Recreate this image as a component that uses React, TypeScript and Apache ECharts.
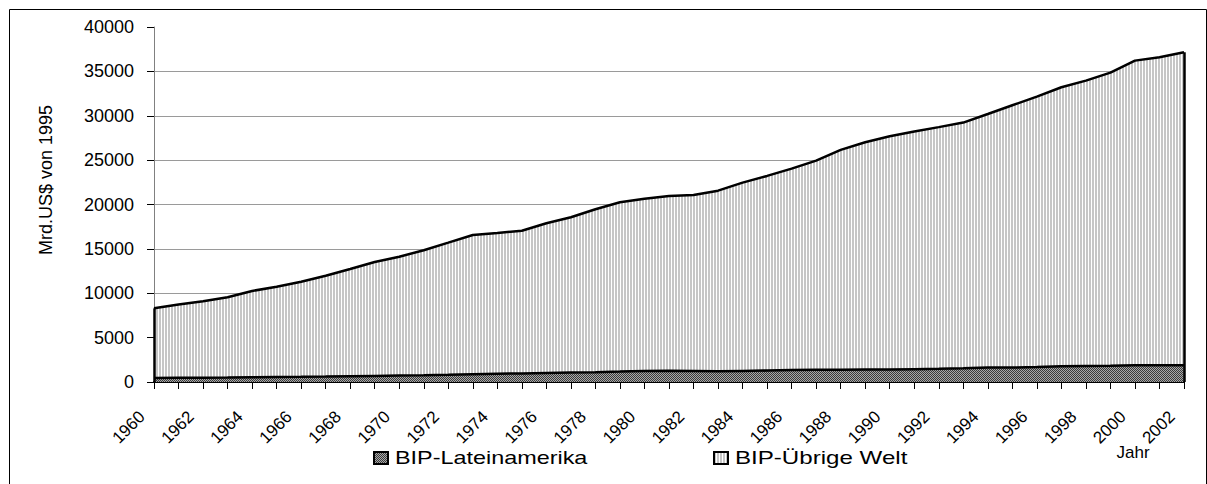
import React, { useEffect, useRef } from 'react';
import * as echarts from 'echarts';

const years = [
  '1960', '1961', '1962', '1963', '1964', '1965', '1966', '1967', '1968', '1969',
  '1970', '1971', '1972', '1973', '1974', '1975', '1976', '1977', '1978', '1979',
  '1980', '1981', '1982', '1983', '1984', '1985', '1986', '1987', '1988', '1989',
  '1990', '1991', '1992', '1993', '1994', '1995', '1996', '1997', '1998', '1999',
  '2000', '2001', '2002',
];

const bipLateinamerika = [
  450, 470, 490, 500, 530, 560, 580, 610, 650, 690,
  730, 770, 820, 880, 940, 970, 1020, 1060, 1100, 1170,
  1250, 1260, 1240, 1200, 1250, 1290, 1340, 1380, 1390, 1410,
  1400, 1450, 1500, 1560, 1640, 1620, 1680, 1770, 1810, 1820,
  1890, 1900, 1880,
];

const bipUebrigeWelt = [
  7850, 8250, 8610, 9050, 9730, 10180, 10720, 11370, 12080, 12830,
  13390, 14080, 14880, 15690, 15860, 16080, 16860, 17500, 18360, 19080,
  19410, 19690, 19830, 20360, 21210, 21930, 22700, 23570, 24760, 25600,
  26290, 26770, 27220, 27670, 28560, 29560, 30470, 31440, 32150, 33040,
  34320, 34690, 35280,
];

const yMin = 0;
const yMax = 40000;
const yStep = 5000;

const seriesNames = ['BIP-Lateinamerika', 'BIP-Übrige Welt'];
const yAxisTitle = 'Mrd.US$ von 1995';
const xAxisTitle = 'Jahr';

const FONT = '"Liberation Sans", Arial, sans-serif';

function makePattern(pixels: string[][]) {
  const h = pixels.length;
  const w = pixels[0].length;
  const c = document.createElement('canvas');
  c.width = w;
  c.height = h;
  const ctx = c.getContext('2d')!;
  for (let y = 0; y < h; y++) {
    for (let x = 0; x < w; x++) {
      ctx.fillStyle = pixels[y][x];
      ctx.fillRect(x, y, 1, 1);
    }
  }
  return { image: c, repeat: 'repeat' as const };
}

export default function App() {
  const ref = useRef<HTMLDivElement>(null);

  useEffect(() => {
    if (!ref.current) return;
    const chart = echarts.init(ref.current, undefined, { renderer: 'svg' });

    const stripes = makePattern([['#c6c6c6', '#c6c6c6', '#ffffff']]);
    const checker = makePattern([
      ['#3a3a3a', '#a8a8a8'],
      ['#a8a8a8', '#3a3a3a'],
    ]);

    const last = years.length - 1;
    const totalFirst = bipLateinamerika[0] + bipUebrigeWelt[0];
    const totalLast = bipLateinamerika[last] + bipUebrigeWelt[last];

    const option: any = {
      animation: false,
      backgroundColor: '#ffffff',
      grid: { left: 154, right: 23, top: 27, bottom: 102 },
      xAxis: {
        type: 'category',
        data: years,
        boundaryGap: false,
        axisLine: { show: true, lineStyle: { color: '#000', width: 2 } },
        axisTick: { show: true, interval: 0, length: 7, lineStyle: { color: '#000', width: 1 } },
        axisLabel: {
          interval: 1,
          rotate: 45,
          fontSize: 17,
          color: '#000',
          fontFamily: FONT,
          margin: 44,
          align: 'right',
          verticalAlign: 'bottom',
          lineHeight: 34,
        },
        splitLine: { show: false },
      },
      yAxis: {
        type: 'value',
        min: yMin,
        max: yMax,
        interval: yStep,
        axisLine: { show: true, lineStyle: { color: '#808080', width: 1 } },
        axisTick: { show: true, length: 7, lineStyle: { color: '#000', width: 1 } },
        axisLabel: {
          fontSize: 18,
          color: '#000',
          fontFamily: FONT,
          margin: 20,
          formatter: (v: number) => String(v),
        },
        splitLine: {
          show: true,
          showMaxLine: false,
          lineStyle: { color: '#9a9a9a', width: 1 },
        },
      },
      series: [
        {
          name: seriesNames[0],
          type: 'line',
          stack: 'total',
          data: bipLateinamerika,
          symbol: 'none',
          z: 3,
          lineStyle: { color: '#000', width: 2.5 },
          areaStyle: { color: checker, opacity: 1 },
          markLine: {
            silent: true,
            symbol: ['none', 'none'],
            label: { show: false },
            lineStyle: { color: '#000', width: 2.5, type: 'solid' },
            data: [
              [{ coord: [years[0], 0] }, { coord: [years[0], totalFirst] }],
              [{ coord: [years[last], 0] }, { coord: [years[last], totalLast] }],
            ],
          },
        },
        {
          name: seriesNames[1],
          type: 'line',
          stack: 'total',
          data: bipUebrigeWelt,
          symbol: 'none',
          z: 2,
          lineStyle: { color: '#000', width: 2.5 },
          areaStyle: { color: stripes, opacity: 1 },
        },
      ],
      graphic: [
        {
          type: 'rect',
          silent: true,
          shape: { x: 9.5, y: 9.5, width: 1197, height: 490 },
          style: { fill: 'none', stroke: '#000', lineWidth: 1 },
        },
        {
          type: 'text',
          x: 46,
          y: 180,
          rotation: Math.PI / 2,
          style: {
            text: yAxisTitle,
            font: `18px ${FONT}`,
            fill: '#000',
            textAlign: 'center',
            verticalAlign: 'middle',
          },
        },
        {
          type: 'text',
          x: 1133,
          y: 452,
          style: {
            text: xAxisTitle,
            font: `17px ${FONT}`,
            fill: '#000',
            textAlign: 'center',
            verticalAlign: 'middle',
          },
        },
        {
          type: 'rect',
          shape: { x: 374, y: 452, width: 14, height: 12 },
          style: { fill: checker, stroke: '#000', lineWidth: 2 },
        },
        {
          type: 'text',
          x: 395,
          y: 458,
          scaleX: 1.3,
          style: {
            text: seriesNames[0],
            font: `18px ${FONT}`,
            fill: '#000',
            textAlign: 'left',
            verticalAlign: 'middle',
          },
        },
        {
          type: 'rect',
          shape: { x: 714, y: 452, width: 14, height: 12 },
          style: { fill: stripes, stroke: '#000', lineWidth: 2 },
        },
        {
          type: 'text',
          x: 735,
          y: 458,
          scaleX: 1.34,
          style: {
            text: seriesNames[1],
            font: `18px ${FONT}`,
            fill: '#000',
            textAlign: 'left',
            verticalAlign: 'middle',
          },
        },
      ],
    };

    chart.setOption(option);
    return () => chart.dispose();
  }, []);

  return (
    <div
      ref={ref}
      style={{ position: 'absolute', left: 0, top: 0, width: 1207, height: 484 }}
    />
  );
}
